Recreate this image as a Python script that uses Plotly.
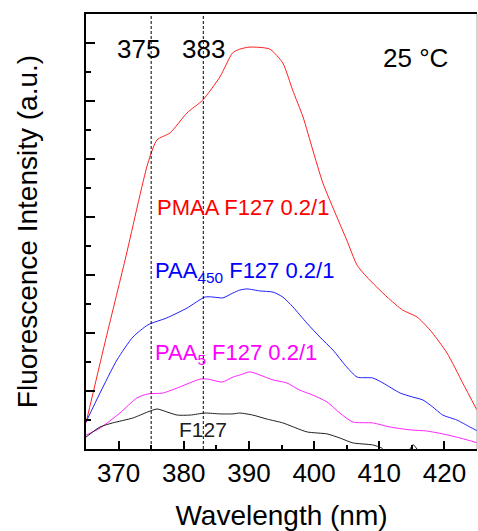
import plotly.graph_objects as go

# Wavelength (nm) and intensity (a.u.)
pmaa_x = [365.0, 367.9, 371.0, 374.5, 375.9, 377.9, 380.5, 382.9, 385.55, 387.5, 388.6, 390.15,
          393.2, 395.2, 396.7, 398.3, 399.8, 401.35, 403.5, 405.0, 406.6, 408.1, 411.2, 413.6,
          415.8, 417.8, 420.4, 422.8, 425.0]
pmaa_y = [0.90, 3.66, 6.52, 9.86, 10.66, 10.90, 11.59, 12.03, 12.83, 13.66, 13.79, 13.86,
          13.79, 13.31, 12.38, 11.45, 10.31, 9.17, 8.00, 7.21, 6.34, 5.93, 5.24, 4.79,
          4.55, 4.10, 3.31, 2.28, 1.34]

paa450_x = [365.0, 367.15, 369.75, 372.2, 374.5, 377.4, 380.5, 383.25, 384.5, 386.0, 387.55, 388.6,
            389.7, 391.7, 393.7, 395.2, 396.75, 398.9, 400.9, 402.9, 405.0, 406.6, 409.0, 410.55,
            413.2, 415.15, 416.7, 418.2, 419.75, 421.9, 423.9, 425.1]
paa450_y = [0.93, 1.93, 3.07, 3.86, 4.28, 4.52, 4.86, 5.24, 5.24, 5.21, 5.38, 5.48,
            5.52, 5.45, 5.41, 5.24, 4.90, 4.34, 3.86, 3.41, 2.83, 2.48, 2.45, 2.28,
            1.93, 1.79, 1.69, 1.45, 1.17, 1.00, 0.76, 0.62]

paa5_x = [365.0, 367.15, 370.2, 372.8, 374.5, 376.8, 379.4, 382.5, 383.7, 385.9, 387.55, 388.6,
          390.15, 391.7, 393.7, 395.8, 397.8, 399.8, 402.0, 403.95, 405.95, 409.0, 411.6, 414.7,
          417.3, 419.75, 422.4, 425.1]
paa5_y = [0.48, 0.72, 1.24, 1.76, 1.90, 1.93, 2.14, 2.41, 2.41, 2.31, 2.48, 2.55,
          2.66, 2.55, 2.38, 2.28, 2.03, 1.86, 1.62, 1.24, 0.93, 0.90, 0.76, 0.66,
          0.62, 0.52, 0.38, 0.21]

f127_x = [365.0, 367.15, 369.1, 372.2, 374.5, 375.9, 377.4, 379.0, 381.0, 383.25, 385.55, 387.55,
          388.6, 390.6, 392.8, 395.2, 398.9, 402.0, 403.95, 405.95, 409.0, 410.4, 411.0, 414.5,
          415.2, 416.0, 418.0, 425.0]
f127_y = [0.41, 0.76, 0.90, 1.07, 1.28, 1.38, 1.28, 1.17, 1.17, 1.24, 1.21, 1.21,
          1.24, 1.17, 1.03, 0.90, 0.59, 0.52, 0.38, 0.21, 0.14, 0.03, -0.10, -0.05,
          0.15, -0.05, -0.20, -0.20]

marker_lines = [375, 383]
x_ticks = [370, 380, 390, 400, 410, 420]

FONT = "Arial, Liberation Sans, sans-serif"

fig = go.Figure()
fig.add_trace(go.Scatter(x=pmaa_x, y=pmaa_y, mode="lines", line=dict(color="#ff2020", width=1, shape="spline", smoothing=0.6), name="PMAA F127 0.2/1"))
fig.add_trace(go.Scatter(x=paa450_x, y=paa450_y, mode="lines", line=dict(color="#2020ff", width=1, shape="spline", smoothing=0.6), name="PAA450 F127 0.2/1"))
fig.add_trace(go.Scatter(x=paa5_x, y=paa5_y, mode="lines", line=dict(color="#ff20ff", width=1, shape="spline", smoothing=0.6), name="PAA5 F127 0.2/1"))
fig.add_trace(go.Scatter(x=f127_x, y=f127_y, mode="lines", line=dict(color="#202020", width=1, shape="spline", smoothing=0.6), name="F127"))

for xv in marker_lines:
    fig.add_shape(type="line", xref="x", yref="paper", x0=xv, x1=xv, y0=0, y1=1,
                  line=dict(color="black", width=1, dash="3px,2px"))
    fig.add_annotation(x=xv - 1.9 if xv == 375 else xv, y=13.79, xref="x", yref="y", text=str(xv),
                       showarrow=False, font=dict(size=26, color="black", family=FONT),
                       xanchor="center", yanchor="middle")

fig.add_shape(type="line", xref="paper", yref="paper", x0=1, x1=1, y0=0, y1=1,
              line=dict(color="#aaaaaa", width=1))

fig.add_annotation(x=415.6, y=13.48, text="25 °C", showarrow=False,
                   font=dict(size=26, color="black", family=FONT), xanchor="center", yanchor="middle")
fig.add_annotation(x=375.6, y=8.34, text="PMAA F127 0.2/1", showarrow=False,
                   font=dict(size=22, color="#ff0000", family=FONT), xanchor="left", yanchor="middle")
fig.add_annotation(x=375.3, y=6.1, text="PAA<sub>450</sub> F127 0.2/1", showarrow=False,
                   font=dict(size=22, color="#0000ff", family=FONT), xanchor="left", yanchor="middle")
fig.add_annotation(x=375.3, y=3.28, text="PAA<sub>5</sub> F127 0.2/1", showarrow=False,
                   font=dict(size=22, color="#ff00ff", family=FONT), xanchor="left", yanchor="middle")
fig.add_annotation(x=382.9, y=0.66, text="F127", showarrow=False,
                   font=dict(size=21, color="#202020", family=FONT), xanchor="center", yanchor="middle")

fig.update_layout(
    width=478, height=531,
    margin=dict(l=86, r=1, t=14, b=82, autoexpand=False),
    paper_bgcolor="white", plot_bgcolor="white",
    showlegend=False,
    font=dict(family=FONT, color="black"),
    xaxis=dict(range=[365, 425], tickvals=x_ticks, ticks="inside", ticklen=8, tickwidth=2,
               tickcolor="black", showline=True, linecolor="black", linewidth=2, mirror=True,
               showgrid=False, zeroline=False, tickfont=dict(size=26, family=FONT), automargin=False,
               minor=dict(dtick=5, tick0=365, ticks="inside", ticklen=4, tickwidth=1.5, tickcolor="black"),
               title=dict(text="Wavelength (nm)", font=dict(size=28, family=FONT), standoff=18)),
    yaxis=dict(range=[0, 15], dtick=2, tick0=0, ticks="inside", ticklen=9, tickwidth=2,
               tickcolor="black", showline=True, linecolor="black", linewidth=2, automargin=False,
               showgrid=False, zeroline=False, showticklabels=False,
               minor=dict(dtick=1, tick0=0, ticks="inside", ticklen=5, tickwidth=1.5, tickcolor="black"),
               title=dict(text="Fluorescence Intensity (a.u.)", font=dict(size=28, family=FONT), standoff=38)),
)

fig.write_html("out.html", config={"displayModeBar": False},
               post_script="document.body.style.margin='0';document.body.style.overflow='hidden';")
